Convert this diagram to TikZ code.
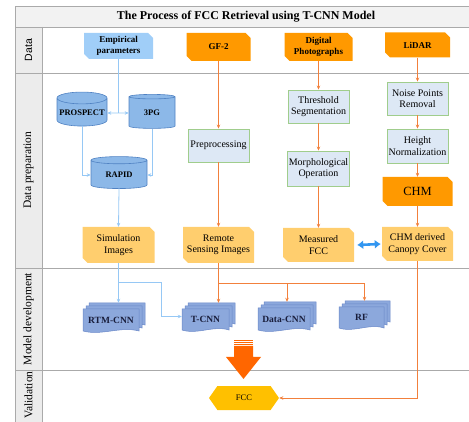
\documentclass[tikz,border=0pt]{standalone}
\usepackage{fontspec}
\setmainfont{Liberation Serif}
\newfontfamily\lanesans{Liberation Sans}
\usetikzlibrary{shapes.misc,shapes.geometric,shapes.symbols,arrows.meta,calc}

\definecolor{framegray}{RGB}{170,170,170}
\definecolor{headgray}{RGB}{242,242,242}
\definecolor{lanegray}{RGB}{236,236,236}
\definecolor{empblue}{RGB}{160,206,248}
\definecolor{srcorange}{RGB}{255,153,0}
\definecolor{outorange}{RGB}{255,206,110}
\definecolor{stepfill}{RGB}{221,232,245}
\definecolor{stepgreen}{RGB}{160,205,140}
\definecolor{cylfill}{RGB}{140,184,232}
\definecolor{cyldraw}{RGB}{80,130,195}
\definecolor{docfill}{RGB}{140,168,220}
\definecolor{docdraw}{RGB}{105,135,200}
\definecolor{doctextc}{RGB}{25,30,60}
\definecolor{lineblue}{RGB}{150,200,245}
\definecolor{lineorange}{RGB}{242,128,60}
\definecolor{dblblue}{RGB}{50,150,240}
\definecolor{bigorange}{RGB}{255,102,0}
\definecolor{fccyellow}{RGB}{255,192,0}

\tikzset{
  card/.style={chamfered rectangle, chamfered rectangle corners={north east,south west},
    chamfered rectangle xsep=2.5pt, chamfered rectangle ysep=2.5pt, inner sep=0pt},
  srcbox/.style={card, fill=srcorange, font=\bfseries\fontsize{9}{11}\selectfont},
  outbox/.style={card, fill=outorange, font=\fontsize{10}{11.5}\selectfont},
  procbox/.style={rectangle, fill=stepfill, draw=stepgreen, line width=0.9pt,
    font=\fontsize{10}{11.5}\selectfont},
  dbcyl/.style={cylinder, shape border rotate=90, aspect=0.25, fill=cylfill, draw=cyldraw,
    line width=0.6pt, font=\bfseries\fontsize{8.5}{10}\selectfont},
  docsheet/.style={fill=docfill, draw=docdraw, line width=0.5pt},
  doctext/.style={font=\bfseries\fontsize{9.5}{11}\selectfont, text=doctextc},
  blueline/.style={lineblue, line width=0.8pt},
  orline/.style={lineorange, line width=0.8pt},
  lanelabel/.style={rotate=90, font=\fontsize{11.5}{13}\selectfont}
}

% 叠放文档形状: 名称, x, y, 宽, 高, 文字
\newcommand{\docstack}[6]{%
  \foreach \k in {2,1,0}{
    \draw[docsheet] ({#2-#4/2+3*\k},{#3-#5/2-3*\k}) -- ({#2+#4/2+3*\k},{#3-#5/2-3*\k})
      -- ({#2+#4/2+3*\k},{#3+#5/2-3*\k})
      .. controls ({#2+#4/6+3*\k},{#3+#5/2-3*\k-5}) and ({#2-#4/6+3*\k},{#3+#5/2-3*\k+5})
      .. ({#2-#4/2+3*\k},{#3+#5/2-3*\k}) -- cycle;
  }
  \node[minimum width=#4+6, minimum height=#5+6, inner sep=0pt] (#1) at ({#2+3},{#3-3}) {};
  \node[doctext] (#1-l) at (#2,#3) {#6};
}

\begin{document}
\begin{tikzpicture}[x=1pt, y=-1pt, >={Stealth[length=4pt,width=3.5pt]},
    every node/.style={align=center, inner sep=1pt}]
  \useasboundingbox (0,0) rectangle (469,422);

  % 1. 泳道框架 (底层)
  \fill[headgray] (15,6) rectangle (469,27);
  \fill[lanegray] (15,27) rectangle (42,422);
  \draw[framegray, line width=0.8pt] (469,6) -- (15,6) -- (15,422);
  \draw[framegray, line width=0.8pt] (15,27) -- (469,27);
  \draw[framegray, line width=0.8pt] (15,73) -- (469,73);
  \draw[framegray, line width=0.8pt] (15,268) -- (469,268);
  \draw[framegray, line width=0.8pt] (15,370) -- (469,370);
  \draw[framegray, line width=0.8pt] (42,27) -- (42,422);

  \node[font=\bfseries\fontsize{12}{14}\selectfont] (title) at (246,16.5) {The Process of FCC Retrieval using T-CNN Model};
  \node[lanelabel, font=\lanesans\fontsize{10.5}{12}\selectfont] (lane1) at (28.5,50) {Data};
  \node[lanelabel] (lane2) at (28.5,170) {Data preparation};
  \node[lanelabel] (lane3) at (28.5,319) {Model development};
  \node[lanelabel] (lane4) at (28.5,395) {Validation};

  % 2. 数据源
  \node[card, fill=empblue, minimum width=69, minimum height=26, font=\bfseries\fontsize{9}{11}\selectfont] (emp) at (118.5,46) {Empirical\\parameters};
  \node[srcbox, minimum width=64, minimum height=28] (gf2) at (218.5,47) {GF-2};
  \node[srcbox, minimum width=68, minimum height=28] (dig) at (318.5,47) {Digital\\Photographs};
  \node[srcbox, minimum width=65, minimum height=25] (lidar) at (417.5,45) {LiDAR};

  % 3. 数据准备
  \node[dbcyl, minimum width=50, minimum height=34] (prospect) at (82,113) {PROSPECT};
  \node[dbcyl, minimum width=46, minimum height=34] (pg3) at (152,113) {3PG};
  \node[dbcyl, minimum width=56, minimum height=32] (rapid) at (119,175) {RAPID};
  \node[outbox, minimum width=72, minimum height=36] (sim) at (118.5,245) {Simulation\\Images};

  \node[procbox, minimum width=61, minimum height=33] (pre) at (218.5,145.5) {Preprocessing};
  \node[outbox, minimum width=71, minimum height=36] (rsi) at (218.5,245) {Remote\\Sensing Images};

  \node[procbox, minimum width=61, minimum height=33] (thr) at (318.5,106.5) {Threshold\\Segmentation};
  \node[procbox, minimum width=62, minimum height=35] (mor) at (318.5,168.5) {Morphological\\Operation};
  \node[outbox, minimum width=71, minimum height=34] (mfcc) at (318.5,245) {Measured\\FCC};

  \node[procbox, minimum width=61, minimum height=33] (noise) at (417.5,98.5) {Noise Points\\Removal};
  \node[procbox, minimum width=61, minimum height=34] (hgt) at (417.5,146) {Height\\Normalization};
  \node[card, fill=srcorange, minimum width=70, minimum height=29, font=\fontsize{12.5}{14}\selectfont] (chm) at (417.5,191.5) {CHM};
  \node[outbox, minimum width=71, minimum height=34] (chmcc) at (417.5,244) {CHM derived\\Canopy Cover};

  % 4. 模型构建
  \docstack{rtm}{111}{320}{56}{22}{RTM-CNN}
  \docstack{tcnn}{205.5}{319.5}{47}{21}{T-CNN}
  \docstack{dcnn}{284}{319}{52}{22}{Data-CNN}
  \docstack{rf}{361.5}{317.5}{45}{21}{RF}

  % 5. 验证
  \node[signal, signal to=west and east, signal pointer angle=110, fill=fccyellow,
    minimum width=70, minimum height=24, font=\fontsize{8.5}{10}\selectfont] (fcc) at (244,398) {FCC};
  \fill[bigorange] (234,346) -- (253,346) -- (253,357) -- (261,357) -- (243.5,379) -- (226,357) -- (234,357) -- cycle;
  \foreach \yy in {340.5,342.5,344.5}
    \draw[bigorange, line width=0.9pt] (234,\yy) -- (253,\yy);

  % 6. 连接线
  \draw[blueline] (emp.south) -- (emp.south |- prospect.east);
  \draw[blueline, <->] (prospect.east) -- (pg3.west);
  \draw[blueline, ->] (prospect.south) |- (rapid.west);
  \draw[blueline, ->] (pg3.south) |- (rapid.east);
  \draw[blueline, ->] (rapid.south) -- (sim.north);
  \draw[blueline, ->] (sim.south) -- (sim.south |- rtm.north);
  \coordinate (simsplit) at (118.5,282);
  \coordinate (simturn) at (161,282);
  \draw[blueline, ->] (simsplit) -- (simturn) |- (tcnn.west);

  \draw[orline, ->] (gf2.south) -- (pre.north);
  \draw[orline, ->] (pre.south) -- (rsi.north);
  \draw[orline, ->] (rsi.south) -- (rsi.south |- tcnn.north);
  \coordinate (rsisplit) at (218.5,283);
  \draw[orline, ->] (rsisplit) -| (dcnn.north);
  \draw[orline, ->] (rsisplit) -| (rf.north);

  \draw[orline, ->] (dig.south) -- (thr.north);
  \draw[orline, ->] (thr.south) -- (mor.north);
  \draw[orline, ->] (mor.south) -- (mfcc.north);

  \draw[orline, ->] (lidar.south) -- (noise.north);
  \draw[orline, ->] (noise.south) -- (hgt.north);
  \draw[orline, ->] (hgt.south) -- (chm.north);
  \draw[orline, ->] (chm.south) -- (chmcc.north);
  \draw[orline, ->] (chmcc.south) |- (fcc.east);

  \draw[dblblue, line width=2.6pt, {Latex[length=6pt,width=9pt]}-{Latex[length=6pt,width=9pt]}]
    ([xshift=3pt]mfcc.east) -- ([xshift=-1pt]chmcc.west);
\end{tikzpicture}
\end{document}
